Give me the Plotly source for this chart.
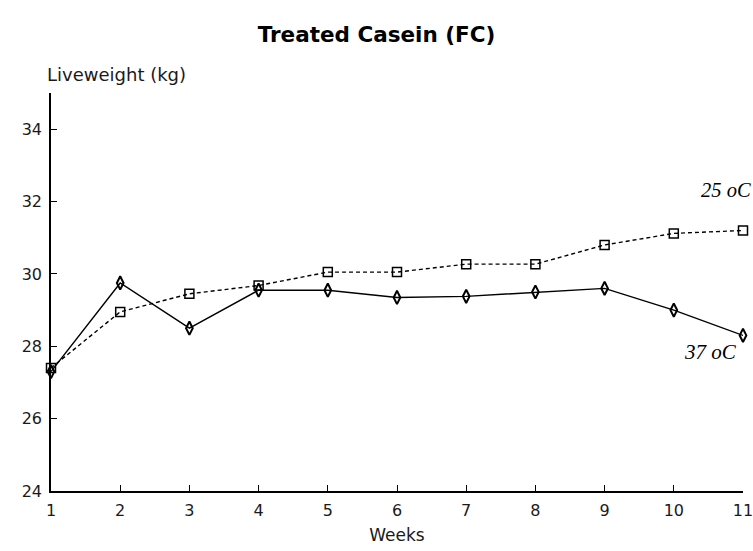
import plotly.graph_objects as go

# Liveweight (kg) by week for the two housing temperatures
weeks = [1, 2, 3, 4, 5, 6, 7, 8, 9, 10, 11]
lw_37c = [27.3, 29.75, 28.5, 29.55, 29.55, 29.35, 29.38, 29.5, 29.6, 29.0, 28.3]
lw_25c = [27.4, 28.95, 29.45, 29.68, 30.05, 30.05, 30.27, 30.27, 30.8, 31.12, 31.2]

y_ticks = [24, 26, 28, 30, 32, 34]
x_ticks = weeks

font_sans = "DejaVu Sans, Liberation Sans, Arial, sans-serif"
font_serif = "Liberation Serif, Times New Roman, serif"

fig = go.Figure()

fig.add_trace(go.Scatter(
    x=weeks, y=lw_25c, mode="lines+markers", name="25 oC",
    line=dict(color="black", width=1.4, dash="4px,3px"),
    marker=dict(symbol="square-open", size=9, color="black",
                line=dict(width=1.5, color="black")),
    cliponaxis=False,
))
fig.add_trace(go.Scatter(
    x=weeks, y=lw_37c, mode="lines+markers", name="37 oC",
    line=dict(color="black", width=1.4),
    marker=dict(symbol="diamond-tall-open", size=9.5, color="black",
                line=dict(width=2, color="black")),
    cliponaxis=False,
))

# Series labels next to the line ends
fig.add_annotation(x=11, y=lw_25c[-1], text="<i>25 oC</i>", showarrow=False,
                   xanchor="left", yanchor="middle", xshift=-44, yshift=40,
                   font=dict(family=font_serif, size=20.5, color="black"))
fig.add_annotation(x=11, y=lw_37c[-1], text="<i>37 oC</i>", showarrow=False,
                   xanchor="left", yanchor="middle", xshift=-61, yshift=-17,
                   font=dict(family=font_serif, size=21, color="black"))

fig.update_layout(
    width=753, height=551,
    margin=dict(l=51, r=10, t=93, b=60, autoexpand=False),
    paper_bgcolor="white", plot_bgcolor="white",
    showlegend=False,
    font=dict(family=font_sans, color="#1a1a1a", size=16),
    title=dict(text="<b>Treated Casein (FC)</b>", x=0.5, xanchor="center",
               y=1 - 34 / 551, yanchor="middle",
               font=dict(family=font_sans, size=21.5, color="black")),
    xaxis=dict(range=[1, 11], tickvals=x_ticks, ticks="inside", ticklen=6,
               tickcolor="black", showline=True, linecolor="black",
               linewidth=1.6, showgrid=False, zeroline=False,
               automargin=False,
               ticklabelstandoff=4, ticklabeloverflow="allow",
               tickfont=dict(size=16, color="#1a1a1a"),
               title=dict(text="Weeks", standoff=10,
                          font=dict(size=17, color="#1a1a1a"))),
    yaxis=dict(range=[24, 35], tickvals=y_ticks, ticks="inside", ticklen=6,
               tickcolor="black", showline=True, linecolor="black",
               linewidth=1.6, showgrid=False, zeroline=False,
               automargin=False,
               ticklabelstandoff=4,
               tickfont=dict(size=16, color="#1a1a1a")),
)

fig.add_annotation(xref="paper", yref="paper", x=-0.009, y=1.0,
                   text="Liveweight (kg)", showarrow=False,
                   xanchor="left", yanchor="bottom", yshift=6,
                   font=dict(family=font_sans, size=18, color="#1a1a1a"))

fig.write_html("out.html")
